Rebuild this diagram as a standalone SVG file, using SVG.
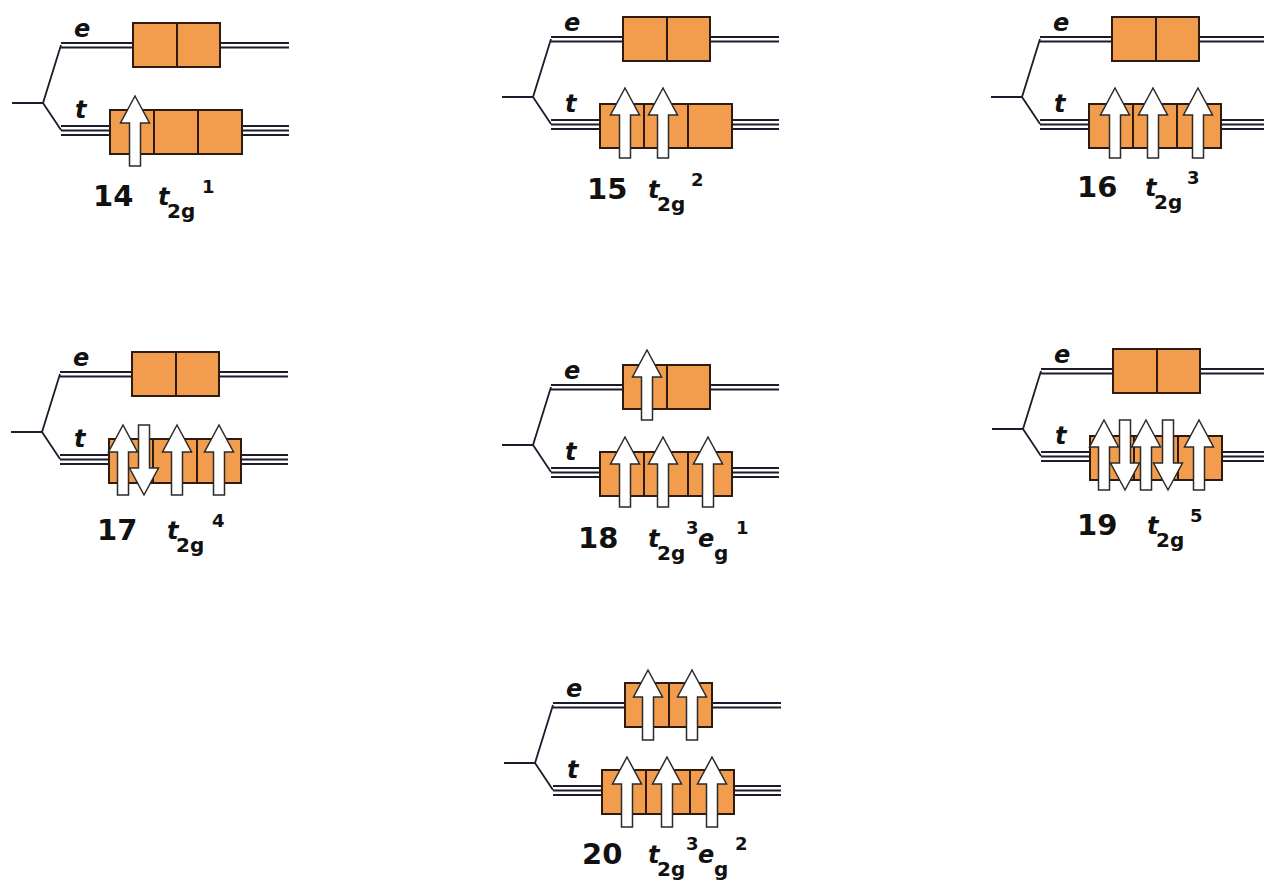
<svg xmlns="http://www.w3.org/2000/svg" xmlns:xlink="http://www.w3.org/1999/xlink" width="1264" height="882" viewBox="0 0 1264 882">
<style>
.ln{stroke:#1c1c2c;stroke-width:1.8;fill:none}
.bx{fill:#F29C4E;stroke:#2e1a0e;stroke-width:2}
.dv{stroke:#2e1a0e;stroke-width:2}
.ar{fill:#ffffff;stroke:#2a2a2a;stroke-width:1.5;stroke-linejoin:miter}
.lb{font-family:"DejaVu Sans",sans-serif;font-weight:bold;font-style:oblique;font-size:24px;fill:#111}
.num{font-family:"DejaVu Sans",sans-serif;font-weight:bold;font-size:29px;fill:#111}
.cfg{font-family:"DejaVu Sans",sans-serif;font-weight:bold;fill:#111}
.it{font-style:oblique;font-size:24px}
.sub{font-size:20px}
.sup{font-size:18px}
</style>
<defs>
<path id="up" class="ar" d="M0,0 L14.5,27 L5.5,27 L5.5,70 L-5.5,70 L-5.5,27 L-14.5,27 Z"/>
<g id="frame">
<g class="connectors">
<path class="ln" d="M-31,0 L0,0 L18,-58 M0,0 L18,27"/>
<path class="ln" d="M18,-60 H90 M18,-55.5 H90 M177,-60 H246 M177,-55.5 H246"/>
<path class="ln" d="M18,23 H67 M18,27.5 H67 M18,32 H67 M199,23 H246 M199,27.5 H246 M199,32 H246"/>
</g>
<rect class="bx" x="90" y="-80" width="87" height="44"/>
<line class="dv" x1="134" y1="-80" x2="134" y2="-36"/>
<rect class="bx" x="67" y="7" width="132" height="44"/>
<line class="dv" x1="111" y1="7" x2="111" y2="51"/>
<line class="dv" x1="155" y1="7" x2="155" y2="51"/>
<text class="lb" x="31" y="-66">e</text>
<text class="lb" x="32" y="15">t</text>
</g>
</defs>

<g id="d14" transform="translate(43,103)">
<use xlink:href="#frame"/>
<use xlink:href="#up" x="92" y="-7"/>
</g>
<g id="d15" transform="translate(533,97)">
<use xlink:href="#frame"/>
<use xlink:href="#up" x="92" y="-9"/>
<use xlink:href="#up" x="130" y="-9"/>
</g>
<g id="d16" transform="translate(1022,97)">
<use xlink:href="#frame"/>
<use xlink:href="#up" x="93" y="-9"/>
<use xlink:href="#up" x="131" y="-9"/>
<use xlink:href="#up" x="176" y="-9"/>
</g>
<g id="d17" transform="translate(42,432)">
<use xlink:href="#frame"/>
<use xlink:href="#up" x="81" y="-7"/>
<use xlink:href="#up" transform="translate(102,63) rotate(180)"/>
<use xlink:href="#up" x="135" y="-7"/>
<use xlink:href="#up" x="177" y="-7"/>
</g>
<g id="d18" transform="translate(533,445)">
<use xlink:href="#frame"/>
<use xlink:href="#up" x="114" y="-95"/>
<use xlink:href="#up" x="92" y="-8"/>
<use xlink:href="#up" x="130" y="-8"/>
<use xlink:href="#up" x="175" y="-8"/>
</g>
<g id="d19" transform="translate(1023,429)">
<use xlink:href="#frame"/>
<use xlink:href="#up" x="81" y="-9"/>
<use xlink:href="#up" transform="translate(102,61) rotate(180)"/>
<use xlink:href="#up" x="123" y="-9"/>
<use xlink:href="#up" transform="translate(145,61) rotate(180)"/>
<use xlink:href="#up" x="176" y="-9"/>
</g>
<g id="d20" transform="translate(535,763)">
<use xlink:href="#frame"/>
<use xlink:href="#up" x="113" y="-93"/>
<use xlink:href="#up" x="157" y="-93"/>
<use xlink:href="#up" x="92" y="-6"/>
<use xlink:href="#up" x="132" y="-6"/>
<use xlink:href="#up" x="177" y="-6"/>
</g>

<g id="labels">
<text class="num" x="93" y="206">14</text>
<text class="cfg"><tspan class="it" x="158" y="205">t</tspan><tspan class="sub" x="167" y="218">2g</tspan><tspan class="sup" x="202" y="193">1</tspan></text>
<text class="num" x="587" y="199">15</text>
<text class="cfg"><tspan class="it" x="648" y="198">t</tspan><tspan class="sub" x="657" y="211">2g</tspan><tspan class="sup" x="691" y="186">2</tspan></text>
<text class="num" x="1077" y="197">16</text>
<text class="cfg"><tspan class="it" x="1145" y="196">t</tspan><tspan class="sub" x="1154" y="209">2g</tspan><tspan class="sup" x="1187" y="184">3</tspan></text>
<text class="num" x="97" y="540">17</text>
<text class="cfg"><tspan class="it" x="167" y="539">t</tspan><tspan class="sub" x="176" y="552">2g</tspan><tspan class="sup" x="212" y="527">4</tspan></text>
<text class="num" x="578" y="548">18</text>
<text class="cfg"><tspan class="it" x="648" y="547">t</tspan><tspan class="sub" x="657" y="560">2g</tspan><tspan class="sup" x="686" y="534">3</tspan><tspan class="it" x="698" y="547">e</tspan><tspan class="sub" x="714" y="560">g</tspan><tspan class="sup" x="736" y="534">1</tspan></text>
<text class="num" x="1077" y="535">19</text>
<text class="cfg"><tspan class="it" x="1147" y="534">t</tspan><tspan class="sub" x="1156" y="547">2g</tspan><tspan class="sup" x="1190" y="522">5</tspan></text>
<text class="num" x="582" y="864">20</text>
<text class="cfg"><tspan class="it" x="648" y="863">t</tspan><tspan class="sub" x="657" y="876">2g</tspan><tspan class="sup" x="686" y="850">3</tspan><tspan class="it" x="698" y="863">e</tspan><tspan class="sub" x="714" y="876">g</tspan><tspan class="sup" x="735" y="850">2</tspan></text>
</g>
</svg>
